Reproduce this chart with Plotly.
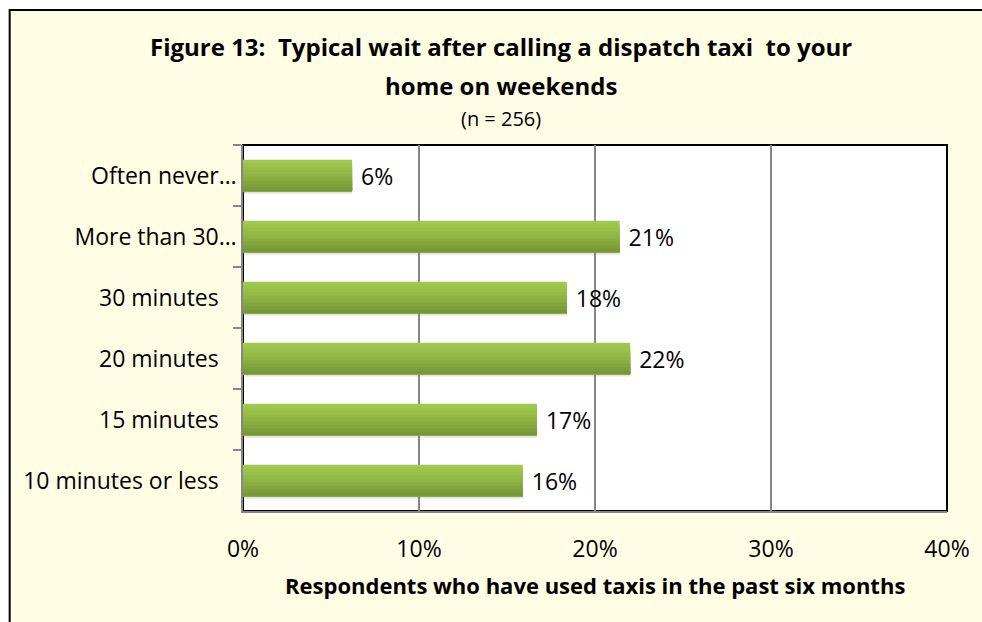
import plotly.graph_objects as go

categories = ["Often never…", "More than 30…", "30 minutes\u00a0\u00a0\u00a0", "20 minutes\u00a0\u00a0\u00a0",
              "15 minutes\u00a0\u00a0\u00a0", "10 minutes or less\u00a0\u00a0\u00a0"]
values = [6.2, 21.4, 18.4, 22.0, 16.7, 15.9]
value_labels = ["6%", "21%", "18%", "22%", "17%", "16%"]
x_tickvals = [0, 10, 20, 30, 40]
x_ticktext = ["0%", "10%", "20%", "30%", "40%"]

FONT = "Open Sans"
L, R, T, B = 243, 949, 145, 511
W, H = 982, 622
BAR_W = 0.52
# vertical gradient of the bars (top -> bottom)
grad = ["#A0C84F", "#9CC44C", "#98C049", "#93BA46", "#8EB443", "#88AD40", "#82A63D", "#7C9F3A", "#779836"]


def px(x):
    return (x - L) / (R - L)


def py(y):
    return (B - y) / (B - T)


fig = go.Figure()
n = len(grad)
# soft shadow under bars
fig.add_trace(go.Bar(
    x=values, y=categories, orientation="h",
    marker=dict(color="rgba(120,120,120,0.22)", line=dict(width=0)),
    width=0.04, offset=BAR_W / 2 - 0.005, hoverinfo="skip",
))
for i, c in enumerate(grad):
    fig.add_trace(go.Bar(
        x=values, y=categories, orientation="h",
        marker=dict(color=c, line=dict(width=0)),
        width=BAR_W - i * BAR_W / n, offset=-BAR_W / 2 + i * BAR_W / n,
        hoverinfo="skip",
    ))
# data labels (transparent bar carrying the outside text)
fig.add_trace(go.Bar(
    x=values, y=categories, orientation="h",
    marker=dict(color="rgba(0,0,0,0)", line=dict(width=0)),
    width=BAR_W, offset=-BAR_W / 2,
    text=value_labels, texttemplate="\u00a0%{text}", textposition="outside",
    textfont=dict(family=FONT, size=23, color="#000000"),
    cliponaxis=False, hoverinfo="skip",
))

fig.update_layout(
    width=W, height=H,
    margin=dict(l=L, r=W - R, t=T, b=H - B, pad=0),
    paper_bgcolor="#FFFFFF",
    plot_bgcolor="rgba(0,0,0,0)",
    showlegend=False,
    barmode="overlay",
    uniformtext=dict(minsize=23, mode="show"),
    font=dict(family=FONT, size=23, color="#000000"),
    xaxis=dict(range=[0, 40], tickvals=x_tickvals, ticktext=x_ticktext,
               showgrid=True, gridcolor="#868686", gridwidth=1.5,
               zeroline=False, showline=True, linecolor="#868686", linewidth=1.5,
               ticks="", tickfont=dict(family=FONT, size=23), ticklabelstandoff=17),
    yaxis=dict(autorange="reversed", showgrid=False, zeroline=False,
               showline=True, linecolor="#868686", linewidth=1.5,
               ticks="outside", ticklen=8, tickcolor="#868686", tickwidth=1.5,
               tickson="boundaries", tickfont=dict(family=FONT, size=23)),
    shapes=[
        dict(type="rect", xref="paper", yref="paper", layer="below",
             x0=px(9), x1=px(1000), y0=py(640), y1=py(10),
             fillcolor="#FFFEE4", line=dict(color="#000000", width=2)),
        dict(type="rect", xref="paper", yref="paper", layer="below",
             x0=0, x1=1, y0=0, y1=1,
             fillcolor="#FFFFFF", line=dict(color="#000000", width=2)),
    ],
    annotations=[
        dict(xref="paper", yref="paper", x=px(502), y=py(46), showarrow=False,
             text="<b>Figure 13:  Typical wait after calling a dispatch taxi  to your</b>",
             font=dict(family=FONT, size=24), xanchor="center", yanchor="middle"),
        dict(xref="paper", yref="paper", x=px(502), y=py(85), showarrow=False,
             text="<b>home on weekends</b>",
             font=dict(family=FONT, size=24), xanchor="center", yanchor="middle"),
        dict(xref="paper", yref="paper", x=px(502), y=py(118), showarrow=False,
             text="(n = 256)",
             font=dict(family=FONT, size=20), xanchor="center", yanchor="middle"),
        dict(xref="paper", yref="paper", x=px(596), y=py(585), showarrow=False,
             text="<b>Respondents who have used taxis in the past six months</b>",
             font=dict(family=FONT, size=22), xanchor="center", yanchor="middle"),
    ],
)

fig.write_html("out.html", config={"displayModeBar": False},
               post_script="document.body.style.margin='0';document.body.style.overflow='hidden';")
